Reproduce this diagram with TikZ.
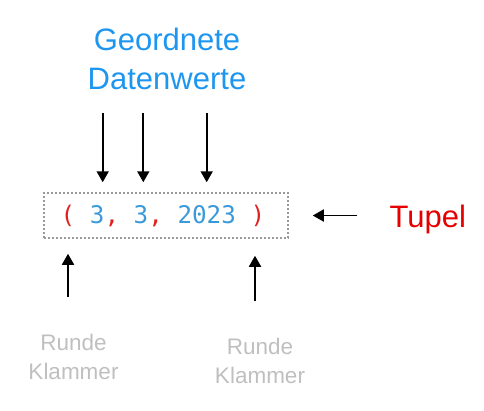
\documentclass[tikz,border=0pt]{standalone}
\usepackage{fontspec}
\setmainfont{Liberation Sans}
\setmonofont{DejaVu Sans Mono}
\usetikzlibrary{arrows.meta, positioning}

\definecolor{headblue}{HTML}{1E96F0}
\definecolor{valblue}{HTML}{3A9AD9}
\definecolor{parred}{HTML}{E02020}
\definecolor{tupelred}{HTML}{E60000}
\definecolor{klammergray}{HTML}{BFBFBF}
\definecolor{boxgray}{HTML}{9A9A9A}

\begin{document}
\begin{tikzpicture}[
    x=1pt, y=-1pt,
    arrow/.style={-{Triangle[length=11pt, width=12pt]}, line width=1.8pt},
    tuplebox/.style={
        rectangle,
        draw=boxgray,
        line width=1.5pt,
        dash pattern=on 2pt off 2pt,
        minimum width=244pt,
        minimum height=45pt
    },
    token/.style={inner sep=0pt, anchor=base, font=\ttfamily\fontsize{24.25}{28}\selectfont},
    value/.style={token, text=valblue},
    paren/.style={token, text=parred},
    heading/.style={align=center, text=headblue, font=\fontsize{31}{39}\selectfont},
    remark/.style={align=center, text=klammergray, font=\fontsize{22.5}{29}\selectfont}
]

\useasboundingbox (0,0) rectangle (484,410);

\node[tuplebox] (box) at (166,215.5) {};

\node[paren] (lpar) at (68,223) {(};
\node[value] (val1) at (97.2,223) {3};
\node[paren] (com1) at (111.8,223) {,};
\node[value] (val2) at (141,223) {3};
\node[paren] (com2) at (155.6,223) {,};
\node[value] (val3) at (206.7,223) {2023};
\node[paren] (rpar) at (257.8,223) {)};

\node[heading, anchor=base] (head) at (167,89) {
    Geordnete\\
    Datenwerte
};

\node[anchor=base west, text=tupelred, font=\fontsize{31}{39}\selectfont] (tupel) at (386,227) {Tupel};

\node[remark, anchor=base] (klam1) at (73.5,379) {
    Runde\\
    Klammer
};

\node[remark, anchor=base] (klam2) at (260,383) {
    Runde\\
    Klammer
};

\coordinate (top1) at (102.7,113);
\coordinate (top2) at (143.3,113);
\coordinate (top3) at (206.7,113);
\coordinate (bot1) at (68,297);
\coordinate (bot2) at (255,301);

\draw[arrow, shorten >=10pt] (top1) -- (top1 |- box.north);
\draw[arrow, shorten >=10pt] (top2) -- (top2 |- box.north);
\draw[arrow, shorten >=10pt] (top3) -- (top3 |- box.north);
\draw[arrow, shorten <=29pt, shorten >=24pt] (tupel.west |- box.east) -- (box.east);
\draw[arrow, shorten >=15pt] (bot1) -- (bot1 |- box.south);
\draw[arrow, shorten >=17pt] (bot2) -- (bot2 |- box.south);

\end{tikzpicture}
\end{document}
